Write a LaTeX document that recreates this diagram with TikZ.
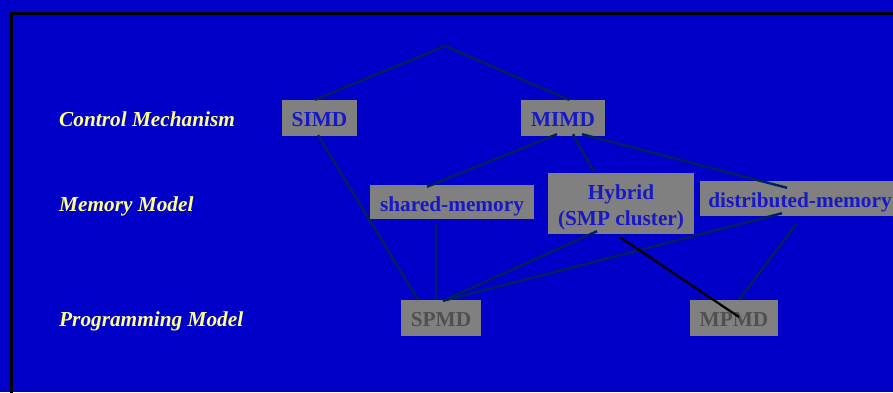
\documentclass[tikz,border=0pt]{standalone}
\usepackage{fontspec}
\setmainfont{Liberation Serif}
\definecolor{slidebg}{RGB}{0,0,200}
\definecolor{boxgray}{RGB}{128,128,128}
\definecolor{boxtext}{RGB}{24,24,200}
\definecolor{dimtext}{RGB}{80,80,80}
\definecolor{levelyellow}{RGB}{255,255,140}
\definecolor{linknavy}{RGB}{0,32,96}
\begin{document}
\begin{tikzpicture}[x=1pt,y=-1pt,
  boxfont/.style={font=\fontsize{21.3}{26}\selectfont\bfseries},
  box/.style={boxfont, fill=boxgray, inner sep=0pt, text=boxtext,
    text height=17pt, text depth=0pt},
  dimbox/.style={box, text=dimtext},
  level/.style={anchor=base west, inner sep=0pt, text=levelyellow,
    font=\fontsize{21.3}{26}\selectfont\bfseries\itshape},
  link/.style={draw=linknavy, line width=2.4pt},
  hardlink/.style={draw=black, line width=2.2pt},
]
\useasboundingbox (0,0) rectangle (893,392);
\fill[slidebg] (0,0) rectangle (893,392);
\draw[line width=3pt] (11.5,400) -- (11.5,13.5) -- (900,13.5);

% level captions
\node[level] (lcontrol) at (59,126) {Control Mechanism};
\node[level] (lmemory)  at (59,211) {Memory Model};
\node[level] (lprog)    at (59,326) {Programming Model};

% taxonomy boxes
\coordinate (apex) at (445,46);
\node[box, minimum width=75pt, minimum height=36pt] (simd) at (319.5,118) {SIMD};
\node[box, minimum width=84pt, minimum height=36pt] (mimd) at (563,118) {MIMD};
\node[box, minimum width=164pt, minimum height=34pt, text height=18pt] (shared) at (452,202) {shared-memory};
\node[box, minimum width=146pt, minimum height=61pt,
  label={[boxfont, text=boxtext, align=center, yshift=-3.5pt]center:Hybrid\\(SMP cluster)}] (hybrid) at (621,203.5) {};
\node[box, minimum width=200pt, minimum height=35pt] (dist) at (800,198.5) {distributed-memory};
\node[dimbox, minimum width=80pt, minimum height=36pt] (spmd) at (441,318) {SPMD};
\node[dimbox, minimum width=88pt, minimum height=36pt] (mpmd) at (734,318) {MPMD};

% connectors
\draw[link] (apex) -- ([xshift=-4.5pt]simd.north);
\draw[link] (apex) -- ([xshift=6pt]mimd.north);
\draw[link] ([xshift=-1.5pt,yshift=1pt]simd.south) -- ([xshift=-23pt]spmd.north);
\draw[link] ([xshift=-6pt,yshift=2pt]mimd.south) -- ([xshift=-25pt,yshift=-2pt]shared.north);
\draw[link] ([xshift=10pt,yshift=2pt]mimd.south) -- ([xshift=-27pt,yshift=1pt]hybrid.north);
\draw[link] ([xshift=19pt,yshift=2pt]mimd.south) -- ([xshift=-13pt,yshift=-7pt]dist.north);
\draw[link] ([xshift=-16pt,yshift=-4pt]shared.south) -- ([xshift=-5pt]spmd.north);
\draw[link] ([xshift=-24pt,yshift=3pt]hybrid.south) -- ([xshift=2pt,yshift=-1pt]spmd.north);
\draw[link] ([xshift=-18pt,yshift=3pt]dist.south) -- ([xshift=2pt,yshift=-1pt]spmd.north);
\draw[hardlink] ([xshift=-1pt,yshift=-3pt]hybrid.south) -- ([xshift=5pt,yshift=1pt]mpmd.center);
\draw[link] ([xshift=-3pt,yshift=-7pt]dist.south) -- ([xshift=5pt]mpmd.north);
\end{tikzpicture}
\end{document}
